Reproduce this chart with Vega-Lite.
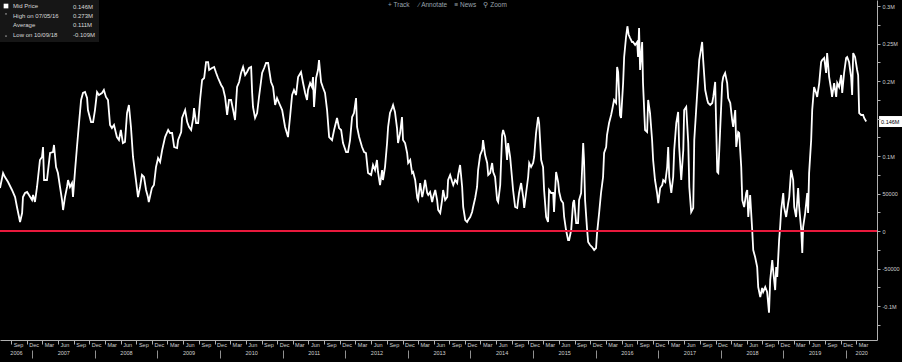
{
"$schema": "https://vega.github.io/schema/vega-lite/v6.json",
"width": 877, "height": 340,
"autosize": {"type": "none"}, "padding": {"left": 0, "top": 0, "right": 25, "bottom": 22},
"background": "black",
"title": {"text": "+ Track\u00a0\u00a0\u00a0\u00a0\u00a0∕ Annotate\u00a0\u00a0\u00a0\u00a0≡ News\u00a0\u00a0\u00a0\u00a0⚲ Zoom", "fontSize": 6.5, "font": "Liberation Sans", "fontWeight": "normal", "color": "#9aa4ae", "anchor": "middle", "offset": 0, "dy": 8, "dx": 9},
"config": {"view": {"stroke": null}, "font": "Liberation Sans", "axis": {"grid": false, "title": null, "labelFont": "Liberation Sans", "labelColor": "#d0d0d0", "labelFontSize": 5.5, "tickColor": "#b0b0b0", "domainColor": "#b0b0b0"}},
"datasets": {
"series": [
{"date":"2006-06-28","value":57300},{"date":"2006-07-16","value":77300},{"date":"2006-07-27","value":72000},{"date":"2006-08-14","value":65300},{"date":"2006-09-06","value":54700},{"date":"2006-09-24","value":45300},{"date":"2006-10-05","value":32000},{"date":"2006-10-23","value":12000},{"date":"2006-11-04","value":24000},{"date":"2006-11-09","value":45300},{"date":"2006-11-21","value":50700},{"date":"2006-12-03","value":52000},{"date":"2006-12-14","value":48000},
{"date":"2007-01-01","value":41300},{"date":"2007-01-07","value":48000},{"date":"2007-01-18","value":38700},{"date":"2007-01-30","value":58700},{"date":"2007-02-16","value":94700},{"date":"2007-02-28","value":98700},{"date":"2007-03-06","value":112000},{"date":"2007-03-12","value":68000},{"date":"2007-03-29","value":68000},{"date":"2007-04-16","value":104000},{"date":"2007-05-03","value":105300},{"date":"2007-05-09","value":114700},{"date":"2007-05-21","value":85300},{"date":"2007-06-01","value":77300},{"date":"2007-06-13","value":58700},{"date":"2007-06-25","value":41300},{"date":"2007-07-01","value":28000},{"date":"2007-07-12","value":45300},{"date":"2007-07-24","value":58700},{"date":"2007-07-30","value":68000},{"date":"2007-08-10","value":58700},{"date":"2007-08-22","value":64000},{"date":"2007-08-28","value":45300},{"date":"2007-09-09","value":81300},{"date":"2007-09-20","value":112000},{"date":"2007-10-02","value":144000},{"date":"2007-10-14","value":174700},{"date":"2007-10-25","value":184000},{"date":"2007-11-06","value":185300},{"date":"2007-11-18","value":177300},{"date":"2007-11-23","value":161300},{"date":"2007-12-11","value":145300},{"date":"2007-12-23","value":145300},
{"date":"2008-01-03","value":161300},{"date":"2008-01-15","value":185300},{"date":"2008-01-26","value":181300},{"date":"2008-02-13","value":184000},{"date":"2008-02-24","value":188000},{"date":"2008-03-07","value":178700},{"date":"2008-03-19","value":174700},{"date":"2008-03-31","value":141300},{"date":"2008-04-11","value":137300},{"date":"2008-04-23","value":141300},{"date":"2008-05-10","value":125300},{"date":"2008-05-22","value":121300},{"date":"2008-06-02","value":134700},{"date":"2008-06-14","value":117300},{"date":"2008-06-26","value":118700},{"date":"2008-07-08","value":157300},{"date":"2008-07-19","value":168000},{"date":"2008-07-31","value":138700},{"date":"2008-08-12","value":98700},{"date":"2008-08-29","value":68000},{"date":"2008-09-10","value":45300},{"date":"2008-09-22","value":58700},{"date":"2008-10-03","value":74700},{"date":"2008-10-15","value":72000},{"date":"2008-10-27","value":54700},{"date":"2008-11-07","value":45300},{"date":"2008-11-12","value":38700},{"date":"2008-11-30","value":57300},{"date":"2008-12-12","value":61300},{"date":"2008-12-24","value":85300},
{"date":"2009-01-05","value":97300},{"date":"2009-01-17","value":92000},{"date":"2009-01-29","value":108000},{"date":"2009-02-15","value":125300},{"date":"2009-03-05","value":134700},{"date":"2009-03-16","value":130700},{"date":"2009-03-28","value":130700},{"date":"2009-04-09","value":112000},{"date":"2009-04-26","value":110700},{"date":"2009-05-02","value":121300},{"date":"2009-05-20","value":132000},{"date":"2009-05-25","value":150700},{"date":"2009-06-12","value":161300},{"date":"2009-06-24","value":145300},{"date":"2009-07-05","value":138700},{"date":"2009-07-17","value":134700},{"date":"2009-07-29","value":150700},{"date":"2009-08-03","value":164000},{"date":"2009-08-15","value":144000},{"date":"2009-08-27","value":144000},{"date":"2009-09-07","value":174700},{"date":"2009-09-19","value":201300},{"date":"2009-10-01","value":204000},{"date":"2009-10-12","value":225300},{"date":"2009-10-24","value":225300},{"date":"2009-10-30","value":214700},{"date":"2009-11-16","value":217300},{"date":"2009-11-28","value":218700},{"date":"2009-12-10","value":210700},{"date":"2009-12-21","value":204000},
{"date":"2010-01-08","value":194700},{"date":"2010-01-19","value":190700},{"date":"2010-01-31","value":178700},{"date":"2010-02-12","value":154700},{"date":"2010-02-23","value":174700},{"date":"2010-03-07","value":174700},{"date":"2010-03-19","value":161300},{"date":"2010-03-30","value":148000},{"date":"2010-04-11","value":192000},{"date":"2010-04-23","value":198700},{"date":"2010-05-04","value":210700},{"date":"2010-05-16","value":218700},{"date":"2010-05-28","value":208000},{"date":"2010-06-08","value":212000},{"date":"2010-06-20","value":217300},{"date":"2010-07-02","value":218700},{"date":"2010-07-08","value":184000},{"date":"2010-07-13","value":165300},{"date":"2010-07-25","value":150700},{"date":"2010-08-06","value":157300},{"date":"2010-08-17","value":178700},{"date":"2010-09-04","value":210700},{"date":"2010-09-16","value":217300},{"date":"2010-09-27","value":224000},{"date":"2010-10-09","value":224000},{"date":"2010-10-26","value":198700},{"date":"2010-11-07","value":192000},{"date":"2010-11-19","value":168000},{"date":"2010-11-30","value":177300},{"date":"2010-12-12","value":170700},{"date":"2010-12-30","value":161300},
{"date":"2011-01-04","value":154700},{"date":"2011-01-16","value":138700},{"date":"2011-02-02","value":125300},{"date":"2011-02-14","value":152000},{"date":"2011-02-26","value":181300},{"date":"2011-03-09","value":188000},{"date":"2011-03-21","value":181300},{"date":"2011-04-02","value":205300},{"date":"2011-04-19","value":212000},{"date":"2011-05-01","value":197300},{"date":"2011-05-13","value":184000},{"date":"2011-05-24","value":174700},{"date":"2011-05-30","value":188000},{"date":"2011-06-11","value":197300},{"date":"2011-06-22","value":192000},{"date":"2011-06-28","value":205300},{"date":"2011-07-04","value":165300},{"date":"2011-07-16","value":204000},{"date":"2011-07-27","value":214700},{"date":"2011-08-02","value":228000},{"date":"2011-08-14","value":198700},{"date":"2011-08-26","value":190700},{"date":"2011-09-06","value":184000},{"date":"2011-09-18","value":161300},{"date":"2011-09-30","value":125300},{"date":"2011-10-17","value":121300},{"date":"2011-10-29","value":134700},{"date":"2011-11-15","value":150700},{"date":"2011-11-27","value":137300},{"date":"2011-12-09","value":134700},{"date":"2011-12-20","value":117300},
{"date":"2012-01-07","value":105300},{"date":"2012-01-18","value":105300},{"date":"2012-01-30","value":121300},{"date":"2012-02-11","value":152000},{"date":"2012-02-22","value":157300},{"date":"2012-03-05","value":177300},{"date":"2012-03-11","value":138700},{"date":"2012-03-23","value":125300},{"date":"2012-04-09","value":112000},{"date":"2012-04-21","value":105300},{"date":"2012-05-02","value":104000},{"date":"2012-05-14","value":77300},{"date":"2012-06-01","value":74700},{"date":"2012-06-12","value":88000},{"date":"2012-06-24","value":81300},{"date":"2012-07-05","value":94700},{"date":"2012-07-11","value":78700},{"date":"2012-07-23","value":61300},{"date":"2012-08-04","value":81300},{"date":"2012-08-09","value":68000},{"date":"2012-08-21","value":85300},{"date":"2012-09-02","value":117300},{"date":"2012-09-08","value":138700},{"date":"2012-09-19","value":157300},{"date":"2012-10-01","value":164000},{"date":"2012-10-07","value":168000},{"date":"2012-10-18","value":158700},{"date":"2012-10-30","value":137300},{"date":"2012-11-05","value":117300},{"date":"2012-11-17","value":130700},{"date":"2012-11-28","value":152000},{"date":"2012-12-04","value":121300},{"date":"2012-12-16","value":117300},{"date":"2012-12-28","value":104000},
{"date":"2013-01-03","value":90700},{"date":"2013-01-15","value":94700},{"date":"2013-01-26","value":77300},{"date":"2013-02-01","value":78700},{"date":"2013-02-13","value":68000},{"date":"2013-02-25","value":44000},{"date":"2013-03-02","value":41300},{"date":"2013-03-14","value":64000},{"date":"2013-03-26","value":45300},{"date":"2013-04-01","value":52000},{"date":"2013-04-12","value":68000},{"date":"2013-04-24","value":50700},{"date":"2013-04-30","value":48000},{"date":"2013-05-11","value":52000},{"date":"2013-05-23","value":38700},{"date":"2013-05-29","value":45300},{"date":"2013-06-10","value":54700},{"date":"2013-06-21","value":41300},{"date":"2013-06-27","value":28000},{"date":"2013-07-09","value":24000},{"date":"2013-07-20","value":41300},{"date":"2013-07-26","value":54700},{"date":"2013-08-07","value":41300},{"date":"2013-08-19","value":45300},{"date":"2013-08-24","value":68000},{"date":"2013-09-05","value":74700},{"date":"2013-09-17","value":65300},{"date":"2013-09-23","value":61300},{"date":"2013-10-04","value":68000},{"date":"2013-10-16","value":64000},{"date":"2013-10-22","value":74700},{"date":"2013-11-02","value":88000},{"date":"2013-11-14","value":58700},{"date":"2013-11-20","value":32000},{"date":"2013-12-02","value":14700},{"date":"2013-12-13","value":12000},{"date":"2013-12-19","value":14700},{"date":"2013-12-31","value":18700},
{"date":"2014-01-11","value":25300},{"date":"2014-01-17","value":32000},{"date":"2014-01-29","value":44000},{"date":"2014-02-09","value":58700},{"date":"2014-02-15","value":81300},{"date":"2014-02-27","value":101300},{"date":"2014-03-11","value":108000},{"date":"2014-03-16","value":121300},{"date":"2014-03-28","value":101300},{"date":"2014-04-09","value":90700},{"date":"2014-04-15","value":74700},{"date":"2014-04-26","value":77300},{"date":"2014-05-08","value":90700},{"date":"2014-05-14","value":78700},{"date":"2014-05-25","value":72000},{"date":"2014-06-06","value":41300},{"date":"2014-06-12","value":38700},{"date":"2014-06-24","value":61300},{"date":"2014-07-05","value":128000},{"date":"2014-07-11","value":134700},{"date":"2014-07-23","value":125300},{"date":"2014-08-03","value":94700},{"date":"2014-08-09","value":117300},{"date":"2014-08-21","value":98700},{"date":"2014-09-02","value":68000},{"date":"2014-09-07","value":54700},{"date":"2014-09-19","value":32000},{"date":"2014-10-01","value":30700},{"date":"2014-10-12","value":50700},{"date":"2014-10-24","value":64000},{"date":"2014-11-05","value":45300},{"date":"2014-11-11","value":30700},{"date":"2014-11-22","value":50700},{"date":"2014-12-04","value":72000},{"date":"2014-12-10","value":90700},{"date":"2014-12-21","value":85300},
{"date":"2015-01-02","value":90700},{"date":"2015-01-08","value":98700},{"date":"2015-01-19","value":130700},{"date":"2015-01-31","value":152000},{"date":"2015-02-06","value":144000},{"date":"2015-02-18","value":94700},{"date":"2015-03-01","value":85300},{"date":"2015-03-07","value":54700},{"date":"2015-03-19","value":18700},{"date":"2015-03-30","value":12000},{"date":"2015-04-05","value":54700},{"date":"2015-04-17","value":50700},{"date":"2015-04-29","value":50700},{"date":"2015-05-04","value":25300},{"date":"2015-05-16","value":78700},{"date":"2015-05-28","value":65300},{"date":"2015-06-03","value":52000},{"date":"2015-06-14","value":41300},{"date":"2015-06-26","value":37300},{"date":"2015-07-02","value":18700},{"date":"2015-07-13","value":1300},{"date":"2015-07-25","value":-12000},{"date":"2015-07-31","value":-12000},{"date":"2015-08-12","value":1300},{"date":"2015-08-23","value":37300},{"date":"2015-08-29","value":41300},{"date":"2015-09-10","value":10700},{"date":"2015-09-21","value":10700},{"date":"2015-09-27","value":41300},{"date":"2015-10-09","value":50700},{"date":"2015-10-21","value":117300},{"date":"2015-10-26","value":94700},{"date":"2015-11-01","value":41300},{"date":"2015-11-13","value":1300},{"date":"2015-11-19","value":-14700},{"date":"2015-11-30","value":-18700},{"date":"2015-12-12","value":-21300},{"date":"2015-12-24","value":-25300},
{"date":"2016-01-04","value":-22700},{"date":"2016-01-10","value":-2700},{"date":"2016-01-22","value":24000},{"date":"2016-02-02","value":50700},{"date":"2016-02-14","value":72000},{"date":"2016-02-20","value":104000},{"date":"2016-03-03","value":112000},{"date":"2016-03-08","value":128000},{"date":"2016-03-20","value":144000},{"date":"2016-04-01","value":154700},{"date":"2016-04-07","value":161300},{"date":"2016-04-18","value":174700},{"date":"2016-04-30","value":170700},{"date":"2016-05-06","value":218700},{"date":"2016-05-12","value":212000},{"date":"2016-05-23","value":154700},{"date":"2016-05-29","value":150700},{"date":"2016-06-10","value":197300},{"date":"2016-06-16","value":232000},{"date":"2016-06-27","value":258700},{"date":"2016-07-05","value":273000},{"date":"2016-07-12","value":262000},{"date":"2016-07-21","value":257300},{"date":"2016-08-01","value":252000},{"date":"2016-08-07","value":252000},{"date":"2016-08-19","value":248000},{"date":"2016-08-31","value":252000},{"date":"2016-09-05","value":232000},{"date":"2016-09-11","value":270700},{"date":"2016-09-17","value":214700},{"date":"2016-09-29","value":252000},{"date":"2016-10-04","value":197300},{"date":"2016-10-16","value":134700},{"date":"2016-10-28","value":132000},{"date":"2016-11-03","value":174700},{"date":"2016-11-14","value":157300},{"date":"2016-11-26","value":121300},{"date":"2016-12-02","value":94700},{"date":"2016-12-13","value":68000},{"date":"2016-12-25","value":50700},
{"date":"2017-01-01","value":37300},{"date":"2017-01-12","value":57300},{"date":"2017-01-24","value":61300},{"date":"2017-01-30","value":68000},{"date":"2017-02-11","value":65300},{"date":"2017-02-22","value":85300},{"date":"2017-02-28","value":112000},{"date":"2017-03-06","value":72000},{"date":"2017-03-18","value":50700},{"date":"2017-03-29","value":72000},{"date":"2017-04-04","value":108000},{"date":"2017-04-16","value":144000},{"date":"2017-04-27","value":158700},{"date":"2017-05-03","value":112000},{"date":"2017-05-15","value":68000},{"date":"2017-05-27","value":108000},{"date":"2017-06-01","value":161300},{"date":"2017-06-13","value":165300},{"date":"2017-06-25","value":117300},{"date":"2017-07-01","value":58700},{"date":"2017-07-12","value":25300},{"date":"2017-07-24","value":30700},{"date":"2017-07-30","value":121300},{"date":"2017-08-10","value":161300},{"date":"2017-08-22","value":205300},{"date":"2017-08-28","value":228000},{"date":"2017-09-14","value":252000},{"date":"2017-09-20","value":228000},{"date":"2017-10-02","value":188000},{"date":"2017-10-14","value":174700},{"date":"2017-10-19","value":170700},{"date":"2017-10-31","value":168000},{"date":"2017-11-12","value":170700},{"date":"2017-11-18","value":178700},{"date":"2017-11-29","value":198700},{"date":"2017-12-11","value":78700},{"date":"2017-12-17","value":77300},{"date":"2017-12-28","value":134700},
{"date":"2018-01-09","value":197300},{"date":"2018-01-15","value":205300},{"date":"2018-01-26","value":210700},{"date":"2018-02-07","value":197300},{"date":"2018-02-13","value":177300},{"date":"2018-02-25","value":170700},{"date":"2018-03-08","value":148000},{"date":"2018-03-14","value":138700},{"date":"2018-03-26","value":161300},{"date":"2018-04-01","value":112000},{"date":"2018-04-12","value":132000},{"date":"2018-04-18","value":130700},{"date":"2018-04-30","value":85300},{"date":"2018-05-06","value":41300},{"date":"2018-05-17","value":32000},{"date":"2018-05-29","value":50700},{"date":"2018-06-04","value":54700},{"date":"2018-06-10","value":18700},{"date":"2018-06-21","value":48000},{"date":"2018-07-03","value":1300},{"date":"2018-07-09","value":-25300},{"date":"2018-07-20","value":-34700},{"date":"2018-08-01","value":-48000},{"date":"2018-08-07","value":-74700},{"date":"2018-08-19","value":-88000},{"date":"2018-08-30","value":-76000},{"date":"2018-09-05","value":-81300},{"date":"2018-09-17","value":-74700},{"date":"2018-09-28","value":-81300},{"date":"2018-10-09","value":-109000},{"date":"2018-10-16","value":-65300},{"date":"2018-10-28","value":-38700},{"date":"2018-11-02","value":-52000},{"date":"2018-11-14","value":-78700},{"date":"2018-11-20","value":-48000},{"date":"2018-11-26","value":-61300},{"date":"2018-12-07","value":-12000},{"date":"2018-12-13","value":5300},{"date":"2018-12-19","value":28000},{"date":"2018-12-31","value":50700},
{"date":"2019-01-05","value":32000},{"date":"2019-01-17","value":18700},{"date":"2019-01-29","value":37300},{"date":"2019-02-04","value":45300},{"date":"2019-02-15","value":81300},{"date":"2019-02-27","value":68000},{"date":"2019-03-05","value":32000},{"date":"2019-03-16","value":18700},{"date":"2019-03-28","value":57300},{"date":"2019-04-03","value":32000},{"date":"2019-04-15","value":1300},{"date":"2019-04-21","value":-29300},{"date":"2019-04-26","value":5300},{"date":"2019-05-08","value":24000},{"date":"2019-05-20","value":50700},{"date":"2019-05-25","value":24000},{"date":"2019-05-31","value":77300},{"date":"2019-06-12","value":121300},{"date":"2019-06-18","value":161300},{"date":"2019-06-29","value":192000},{"date":"2019-07-11","value":184000},{"date":"2019-07-17","value":178700},{"date":"2019-07-29","value":197300},{"date":"2019-08-09","value":225300},{"date":"2019-08-15","value":228000},{"date":"2019-08-27","value":230700},{"date":"2019-09-07","value":210700},{"date":"2019-09-13","value":237300},{"date":"2019-09-25","value":205300},{"date":"2019-10-07","value":188000},{"date":"2019-10-12","value":178700},{"date":"2019-10-24","value":197300},{"date":"2019-11-05","value":178700},{"date":"2019-11-11","value":197300},{"date":"2019-11-22","value":192000},{"date":"2019-12-04","value":208000},{"date":"2019-12-10","value":184000},{"date":"2019-12-21","value":210700},
{"date":"2020-01-02","value":230700},{"date":"2020-01-08","value":232000},{"date":"2020-01-19","value":225300},{"date":"2020-01-31","value":205300},{"date":"2020-02-06","value":181300},{"date":"2020-02-12","value":237300},{"date":"2020-02-23","value":232000},{"date":"2020-03-06","value":214700},{"date":"2020-03-12","value":208000},{"date":"2020-03-18","value":157300},{"date":"2020-03-30","value":154700},{"date":"2020-04-10","value":154700},{"date":"2020-04-16","value":150700},{"date":"2020-04-28","value":146000}
],
"legend": [
{"item":"Mid Price"},{"item":"High on 07/05/16"},{"item":"Average"},{"item":"Low on 10/09/18"},{"item":"0.146M"},{"item":"0.273M"},{"item":"0.111M"},{"item":"-0.109M"}
],
"zero": [{"level": 0}],
"last": [{"label": "0.146M", "value": 146000}]
},
"layer": [
{
"data": {"name": "series"},
"mark": {"type": "line", "color": "white", "strokeWidth": 1.8},
"encoding": {
"x": {"field": "date", "type": "temporal",
"scale": {"type": "utc", "domain": [{"year":2006,"month":6,"date":28,"utc":true},{"year":2020,"month":6,"date":30,"utc":true}]},
"axis": {"orient": "bottom", "format": "%b", "labelAlign": "left", "labelBaseline": "top", "labelOffset": 2, "tickSize": 4, "labelPadding": -2, "labelOverlap": false, "labelFlush": false, "labelBound": false,
"values": [{"year":2006,"month":9,"date":1,"utc":true},{"year":2006,"month":12,"date":1,"utc":true},
{"year":2007,"month":3,"date":1,"utc":true},{"year":2007,"month":6,"date":1,"utc":true},{"year":2007,"month":9,"date":1,"utc":true},{"year":2007,"month":12,"date":1,"utc":true},
{"year":2008,"month":3,"date":1,"utc":true},{"year":2008,"month":6,"date":1,"utc":true},{"year":2008,"month":9,"date":1,"utc":true},{"year":2008,"month":12,"date":1,"utc":true},
{"year":2009,"month":3,"date":1,"utc":true},{"year":2009,"month":6,"date":1,"utc":true},{"year":2009,"month":9,"date":1,"utc":true},{"year":2009,"month":12,"date":1,"utc":true},
{"year":2010,"month":3,"date":1,"utc":true},{"year":2010,"month":6,"date":1,"utc":true},{"year":2010,"month":9,"date":1,"utc":true},{"year":2010,"month":12,"date":1,"utc":true},
{"year":2011,"month":3,"date":1,"utc":true},{"year":2011,"month":6,"date":1,"utc":true},{"year":2011,"month":9,"date":1,"utc":true},{"year":2011,"month":12,"date":1,"utc":true},
{"year":2012,"month":3,"date":1,"utc":true},{"year":2012,"month":6,"date":1,"utc":true},{"year":2012,"month":9,"date":1,"utc":true},{"year":2012,"month":12,"date":1,"utc":true},
{"year":2013,"month":3,"date":1,"utc":true},{"year":2013,"month":6,"date":1,"utc":true},{"year":2013,"month":9,"date":1,"utc":true},{"year":2013,"month":12,"date":1,"utc":true},
{"year":2014,"month":3,"date":1,"utc":true},{"year":2014,"month":6,"date":1,"utc":true},{"year":2014,"month":9,"date":1,"utc":true},{"year":2014,"month":12,"date":1,"utc":true},
{"year":2015,"month":3,"date":1,"utc":true},{"year":2015,"month":6,"date":1,"utc":true},{"year":2015,"month":9,"date":1,"utc":true},{"year":2015,"month":12,"date":1,"utc":true},
{"year":2016,"month":3,"date":1,"utc":true},{"year":2016,"month":6,"date":1,"utc":true},{"year":2016,"month":9,"date":1,"utc":true},{"year":2016,"month":12,"date":1,"utc":true},
{"year":2017,"month":3,"date":1,"utc":true},{"year":2017,"month":6,"date":1,"utc":true},{"year":2017,"month":9,"date":1,"utc":true},{"year":2017,"month":12,"date":1,"utc":true},
{"year":2018,"month":3,"date":1,"utc":true},{"year":2018,"month":6,"date":1,"utc":true},{"year":2018,"month":9,"date":1,"utc":true},{"year":2018,"month":12,"date":1,"utc":true},
{"year":2019,"month":3,"date":1,"utc":true},{"year":2019,"month":6,"date":1,"utc":true},{"year":2019,"month":9,"date":1,"utc":true},{"year":2019,"month":12,"date":1,"utc":true},
{"year":2020,"month":3,"date":1,"utc":true}]}},
"y": {"field": "value", "type": "quantitative",
"scale": {"domain": [-145300, 308000], "nice": false, "zero": false},
"axis": {"orient": "right", "tickSize": 3, "labelPadding": 2, "labelAlign": "left", "labelBaseline": "middle", "zindex": 1, "labelOverlap": false,
"values": [-100000,-50000,0,50000,100000,200000,250000,300000],
"labelExpr": "abs(datum.value) >= 100000 ? (datum.value / 1000000) + 'M' : '' + datum.value"}}
}
},
{
"data": {"name": "zero"},
"mark": {"type": "rule", "color": "#e8193c", "strokeWidth": 2},
"encoding": {"y": {"field": "level", "type": "quantitative",
"axis": {"orient": "right", "labels": false, "domain": false, "tickSize": 3, "zindex": 1, "values": [-125000,-75000,-25000,25000,75000,125000,150000,175000,225000,275000]}}}
},
{
"data": {"name": "series"},
"mark": {"type": "point", "opacity": 0, "size": 0},
"encoding": {
"x": {"field": "date", "type": "temporal",
"axis": {"orient": "bottom", "format": "%Y", "labelAlign": "center", "labelBaseline": "top", "ticks": false, "domain": false, "labelPadding": 10, "labelOverlap": false, "labelFlush": false, "labelBound": false,
"values": [{"year":2006,"month":9,"date":29,"utc":true},{"year":2007,"month":7,"date":2,"utc":true},{"year":2008,"month":7,"date":2,"utc":true},{"year":2009,"month":7,"date":2,"utc":true},{"year":2010,"month":7,"date":2,"utc":true},{"year":2011,"month":7,"date":2,"utc":true},{"year":2012,"month":7,"date":2,"utc":true},{"year":2013,"month":7,"date":2,"utc":true},{"year":2014,"month":7,"date":2,"utc":true},{"year":2015,"month":7,"date":2,"utc":true},{"year":2016,"month":7,"date":2,"utc":true},{"year":2017,"month":7,"date":2,"utc":true},{"year":2018,"month":7,"date":2,"utc":true},{"year":2019,"month":7,"date":2,"utc":true},{"year":2020,"month":3,"date":30,"utc":true}]}}
}
},
{
"data": {"name": "series"},
"mark": {"type": "point", "opacity": 0, "size": 0},
"encoding": {
"x": {"field": "date", "type": "temporal",
"axis": {"orient": "bottom", "offset": 10, "labels": false, "domain": false, "tickSize": 8, "tickColor": "#909090",
"values": [{"year":2007,"month":1,"date":1,"utc":true},{"year":2008,"month":1,"date":1,"utc":true},{"year":2009,"month":1,"date":1,"utc":true},{"year":2010,"month":1,"date":1,"utc":true},{"year":2011,"month":1,"date":1,"utc":true},{"year":2012,"month":1,"date":1,"utc":true},{"year":2013,"month":1,"date":1,"utc":true},{"year":2014,"month":1,"date":1,"utc":true},{"year":2015,"month":1,"date":1,"utc":true},{"year":2016,"month":1,"date":1,"utc":true},{"year":2017,"month":1,"date":1,"utc":true},{"year":2018,"month":1,"date":1,"utc":true},{"year":2019,"month":1,"date":1,"utc":true},{"year":2020,"month":1,"date":1,"utc":true}]}}
}
},
{
"data": {"name": "last"},
"mark": {"type": "rect", "color": "white", "clip": false},
"encoding": {
"x": {"datum": {"year":2020,"month":7,"date":12,"utc":true}, "type": "temporal", "axis": null},
"x2": {"datum": {"year":2020,"month":12,"date":31,"utc":true}},
"y": {"datum": 153300, "type": "quantitative", "axis": null},
"y2": {"datum": 138700}
}
},
{
"data": {"name": "last"},
"mark": {"type": "text", "color": "black", "align": "left", "baseline": "middle", "fontSize": 5.5, "dx": 2, "clip": false},
"encoding": {
"x": {"datum": {"year":2020,"month":7,"date":12,"utc":true}, "type": "temporal", "axis": null},
"y": {"field": "value", "type": "quantitative", "axis": null},
"text": {"field": "label"}
}
},
{
"data": {"name": "legend"},
"mark": {"type": "point", "size": 0, "filled": true, "color": "white"},
"encoding": {
"shape": {"field": "item", "type": "nominal",
"scale": {"domain": ["Mid Price","High on 07/05/16","Average","Low on 10/09/18","0.146M","0.273M","0.111M","-0.109M"],
"range": ["square","M0,-1V1M-0.5,-0.5L0,-1L0.5,-0.5","M-1,0H1M0,-1V1","M0,-1V1M-0.5,0.5L0,1L0.5,0.5","M0,0","M0,0","M0,0","M0,0"]},
"legend": {"title": null, "orient": "top-left", "offset": 0, "padding": 3, "columns": 2, "columnPadding": 4, "rowPadding": 1.5, "fillColor": "#161616",
"labelColor": "#d8d8d8", "labelFontSize": 6, "labelFont": "Liberation Sans", "symbolSize": 22, "symbolFillColor": "white", "symbolStrokeColor": "#d0d0d0", "symbolStrokeWidth": 0.8, "symbolOpacity": 1, "labelLimit": 100}}
}
}
],
"resolve": {"axis": {"x": "independent", "y": "independent"}}
}
